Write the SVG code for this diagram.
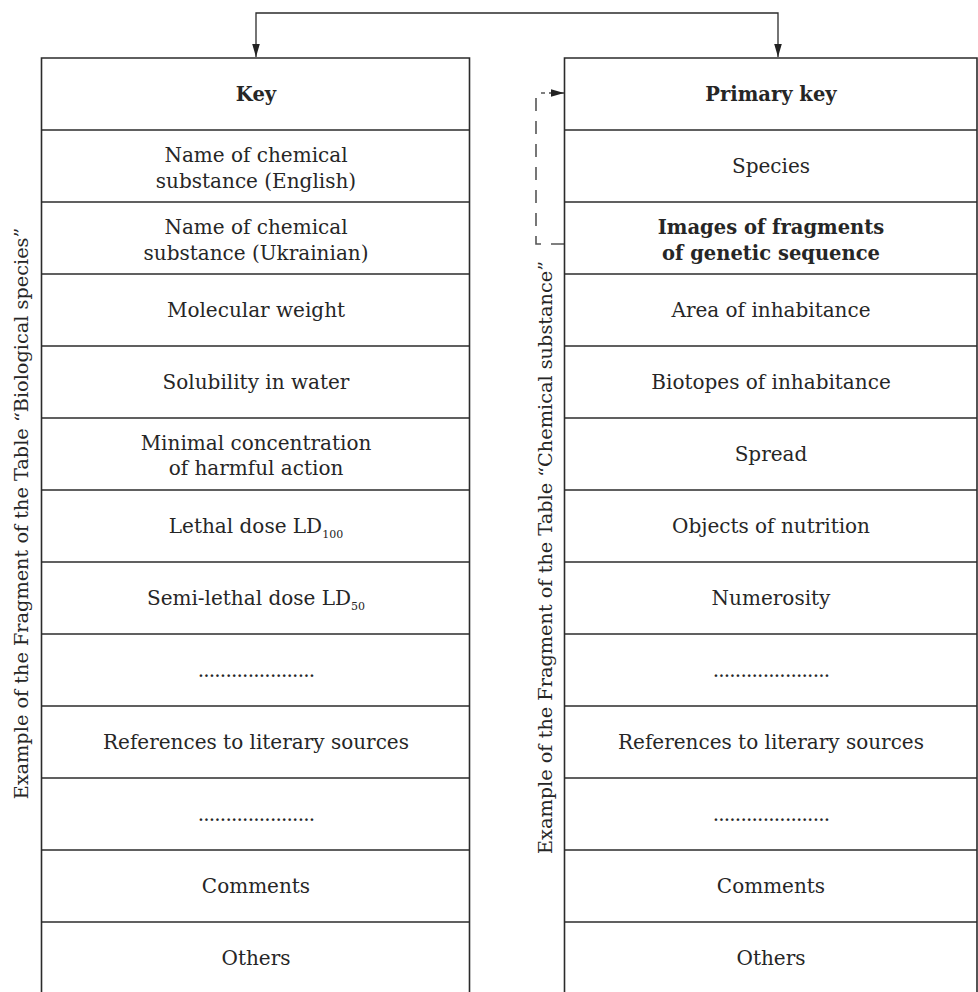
<svg xmlns="http://www.w3.org/2000/svg" width="978" height="992" viewBox="0 0 978 992">
<style>
  .frame { fill: none; stroke: #2b2b2b; stroke-width: 1.6; }
  .div { stroke: #2b2b2b; stroke-width: 1.6; }
  text { font-family: "DejaVu Serif", "Liberation Serif", serif; font-size: 20px; fill: #262626; text-anchor: middle; }
  .b { font-weight: bold; font-size: 19.5px; }
  .dots { letter-spacing: -0.8px; }
  .side { font-size: 19.3px; }
  .conn { fill: none; stroke: #2b2b2b; stroke-width: 1.3; }
  .dash { fill: none; stroke: #555; stroke-width: 1.6; stroke-dasharray: 13 10; }
</style>
<defs>
  <marker id="ah" markerUnits="userSpaceOnUse" markerWidth="14" markerHeight="10" refX="13" refY="5" orient="auto">
    <path d="M0,1.2 L13,5 L0,8.8 Z" fill="#222"/>
  </marker>
</defs>

<g id="connectors">
  <path class="conn" d="M517,13 H256 V57" marker-end="url(#ah)"/>
  <path class="conn" d="M517,13 H778 V57" marker-end="url(#ah)"/>
  <path class="dash" d="M564,244 H536 V93 H545"/>
  <path class="conn" d="M549,93 H564" marker-end="url(#ah)"/>
</g>

<g id="table-left">
  <path class="frame" d="M41.5,994 V58 H469.5 V994"/>
  <g class="div">
    <line x1="41.5" y1="130" x2="469.5" y2="130"/>
    <line x1="41.5" y1="202" x2="469.5" y2="202"/>
    <line x1="41.5" y1="274" x2="469.5" y2="274"/>
    <line x1="41.5" y1="346" x2="469.5" y2="346"/>
    <line x1="41.5" y1="418" x2="469.5" y2="418"/>
    <line x1="41.5" y1="490" x2="469.5" y2="490"/>
    <line x1="41.5" y1="562" x2="469.5" y2="562"/>
    <line x1="41.5" y1="634" x2="469.5" y2="634"/>
    <line x1="41.5" y1="706" x2="469.5" y2="706"/>
    <line x1="41.5" y1="778" x2="469.5" y2="778"/>
    <line x1="41.5" y1="850" x2="469.5" y2="850"/>
    <line x1="41.5" y1="922" x2="469.5" y2="922"/>
  </g>
  <text class="b" x="256" y="101">Key</text>
  <text x="256" y="162">Name of chemical</text>
  <text x="256" y="188">substance (English)</text>
  <text x="256" y="234">Name of chemical</text>
  <text x="256" y="260">substance (Ukrainian)</text>
  <text x="256" y="317">Molecular weight</text>
  <text x="256" y="389">Solubility in water</text>
  <text x="256" y="450">Minimal concentration</text>
  <text x="256" y="475">of harmful action</text>
  <text x="256" y="533">Lethal dose LD<tspan font-size="11" dy="5">100</tspan></text>
  <text x="256" y="605">Semi-lethal dose LD<tspan font-size="11" dy="5">50</tspan></text>
  <text class="dots" x="256" y="677">.....................</text>
  <text x="256" y="749">References to literary sources</text>
  <text class="dots" x="256" y="821">.....................</text>
  <text x="256" y="893">Comments</text>
  <text x="256" y="965">Others</text>
  <text class="side" transform="translate(28,513.5) rotate(-90)">Example of the Fragment of the Table “Biological species”</text>
</g>

<g id="table-right">
  <path class="frame" d="M564.5,994 V58 H977 V994"/>
  <g class="div">
    <line x1="564.5" y1="130" x2="977" y2="130"/>
    <line x1="564.5" y1="202" x2="977" y2="202"/>
    <line x1="564.5" y1="274" x2="977" y2="274"/>
    <line x1="564.5" y1="346" x2="977" y2="346"/>
    <line x1="564.5" y1="418" x2="977" y2="418"/>
    <line x1="564.5" y1="490" x2="977" y2="490"/>
    <line x1="564.5" y1="562" x2="977" y2="562"/>
    <line x1="564.5" y1="634" x2="977" y2="634"/>
    <line x1="564.5" y1="706" x2="977" y2="706"/>
    <line x1="564.5" y1="778" x2="977" y2="778"/>
    <line x1="564.5" y1="850" x2="977" y2="850"/>
    <line x1="564.5" y1="922" x2="977" y2="922"/>
  </g>
  <text class="b" x="771" y="101">Primary key</text>
  <text x="771" y="173">Species</text>
  <text class="b" x="771" y="234">Images of fragments</text>
  <text class="b" x="771" y="260">of genetic sequence</text>
  <text x="771" y="317">Area of inhabitance</text>
  <text x="771" y="389">Biotopes of inhabitance</text>
  <text x="771" y="461">Spread</text>
  <text x="771" y="533">Objects of nutrition</text>
  <text x="771" y="605">Numerosity</text>
  <text class="dots" x="771" y="677">.....................</text>
  <text x="771" y="749">References to literary sources</text>
  <text class="dots" x="771" y="821">.....................</text>
  <text x="771" y="893">Comments</text>
  <text x="771" y="965">Others</text>
  <text class="side" transform="translate(552,557.5) rotate(-90)">Example of the Fragment of the Table “Chemical substance”</text>
</g>
</svg>
